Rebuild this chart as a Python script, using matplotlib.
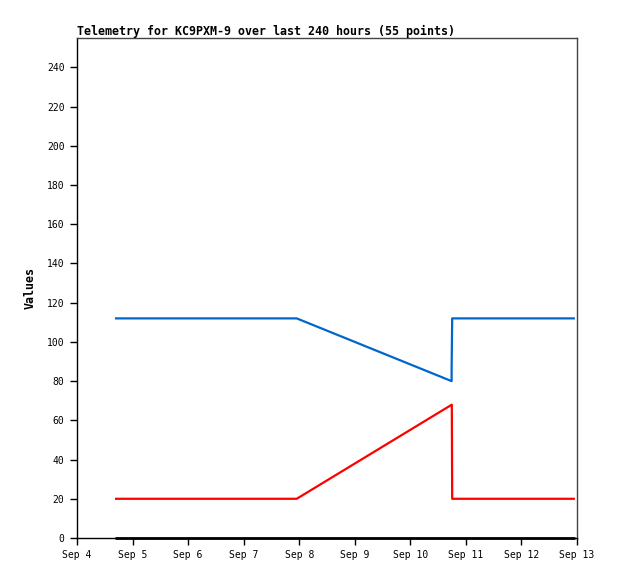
import matplotlib
matplotlib.use("Agg")
from matplotlib import pyplot as plt
import matplotlib.dates as mdates
import numpy as np
from datetime import datetime

# telemetry samples (breakpoints)
blue_times = ["2023-09-04 16:25", "2023-09-07 22:55", "2023-09-10 17:50",
              "2023-09-10 17:51", "2023-09-10 18:05", "2023-09-12 23:05"]
blue_vals = [112, 112, 80, 88, 112, 112]

red_times = ["2023-09-04 16:25", "2023-09-07 22:55", "2023-09-10 17:55",
             "2023-09-10 18:05", "2023-09-12 23:05"]
red_vals = [20, 20, 68, 20, 20]

zero_times = ["2023-09-04 16:25", "2023-09-12 23:05"]
zero_vals = [0, 0]

yticks = list(range(0, 241, 20))


def to_dt(ts):
    return [datetime.strptime(t, "%Y-%m-%d %H:%M") for t in ts]


fig = plt.figure(figsize=(6.18, 5.79), dpi=100)
ax = fig.add_axes([77 / 618, 41 / 579, 500 / 618, 500 / 579])

ax.plot(to_dt(zero_times), zero_vals, color="black", lw=2, solid_capstyle="butt", zorder=4, clip_on=False)
ax.plot(to_dt(red_times), red_vals, color="#ff0000", lw=1.6, solid_capstyle="butt")
ax.plot(to_dt(blue_times), blue_vals, color="#0066cc", lw=1.6, solid_capstyle="butt")

ax.set_xlim(datetime(2023, 9, 4), datetime(2023, 9, 13))
ax.set_ylim(0, 255)
ax.set_yticks(yticks)
ax.xaxis.set_major_locator(mdates.DayLocator())
ax.xaxis.set_major_formatter(plt.FuncFormatter(
    lambda v, p: "%s %d" % (mdates.num2date(v).strftime("%b"), mdates.num2date(v).day)))

for lab in ax.get_xticklabels() + ax.get_yticklabels():
    lab.set_fontfamily("DejaVu Sans Mono")
    lab.set_fontsize(7)
ax.tick_params(direction="out", length=5, width=1, pad=4, top=False, right=False)

ax.spines["top"].set_color("#444444")
ax.spines["right"].set_color("#444444")
for s in ax.spines.values():
    s.set_linewidth(1)

ax.set_title("Telemetry for KC9PXM-9 over last 240 hours (55 points)", loc="left",
             fontfamily="DejaVu Sans Mono", fontweight="bold", fontsize=8.4, pad=2)
ax.set_ylabel("Values", fontfamily="DejaVu Sans Mono", fontweight="bold", fontsize=8.4, labelpad=7)

fig.savefig("out.png", dpi=100)
